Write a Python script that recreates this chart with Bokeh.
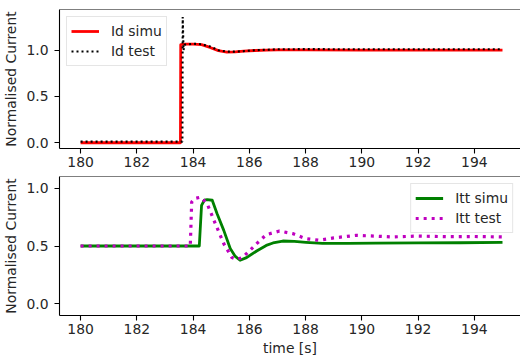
from bokeh.plotting import figure
from bokeh.layouts import column
from bokeh.models import Range1d, FixedTicker, PrintfTickFormatter, Span
from bokeh.embed import file_html
from bokeh.resources import INLINE

# ---------------- data ----------------
id_simu_t = [180.0, 183.55, 183.56, 183.7, 184.0, 184.3, 184.6, 184.9, 185.2, 185.5,
             185.8, 186.2, 186.6, 187.0, 188.0, 190.0, 192.0, 195.0]
id_simu_v = [0.0, 0.0, 1.06, 1.065, 1.065, 1.06, 1.03, 0.995, 0.98, 0.982,
             0.99, 0.997, 1.0, 1.003, 1.003, 1.002, 1.002, 1.002]

id_test_t = [180.0, 183.62, 183.63, 183.66, 183.7, 184.0, 184.3, 184.6, 184.9, 185.2,
             185.5, 185.8, 186.2, 186.6, 187.0, 188.0, 190.0, 192.0, 195.0]
id_test_v = [0.012, 0.012, 1.36, 1.0, 1.06, 1.07, 1.065, 1.04, 1.0, 0.985,
             0.985, 0.99, 1.0, 1.005, 1.01, 1.012, 1.01, 1.01, 1.01]

itt_simu_t = [180.0, 184.22, 184.3, 184.4, 184.5, 184.68, 184.85, 185.09, 185.32, 185.5,
              185.67, 185.9, 186.26, 186.6, 186.84, 187.19, 187.6, 188.01, 188.6, 189.5,
              190.5, 192.0, 193.5, 195.0]
itt_simu_v = [0.5, 0.5, 0.85, 0.895, 0.9, 0.895, 0.78, 0.635, 0.478, 0.41,
              0.377, 0.40, 0.457, 0.505, 0.526, 0.543, 0.54, 0.532, 0.523, 0.522,
              0.525, 0.527, 0.528, 0.532]

itt_test_t = [180.0, 183.9, 183.95, 184.05, 184.27, 184.5, 184.79, 185.09, 185.38, 185.55,
              185.75, 185.96, 186.26, 186.6, 187.07, 187.54, 188.0, 188.48, 189.0, 189.79,
              190.5, 191.07, 192.0, 193.0, 194.0, 195.0]
itt_test_v = [0.5, 0.5, 0.88, 0.91, 0.922, 0.865, 0.693, 0.52, 0.40, 0.385,
              0.40, 0.448, 0.52, 0.598, 0.629, 0.607, 0.564, 0.549, 0.57, 0.592,
              0.585, 0.578, 0.586, 0.58, 0.582, 0.578]

x_ticks = [180, 182, 184, 186, 188, 190, 192, 194]
y_ticks = [0.0, 0.5, 1.0]
y_label = "Normalised Current"
x_label = "time [s]"

FONT = "DejaVu Sans"
FS = "13.9px"
TXT = "#262626"


def style(p, xlabel=None):
    p.outline_line_color = None
    p.xgrid.visible = False
    p.ygrid.visible = False
    p.background_fill_color = "white"
    p.border_fill_color = "white"
    for ax in (p.xaxis[0], p.yaxis[0]):
        ax.axis_line_color = "black"
        ax.axis_line_width = 1.1
        ax.major_tick_line_color = "black"
        ax.major_tick_line_width = 1.1
        ax.major_tick_out = 5
        ax.major_tick_in = 0
        ax.minor_tick_out = 0
        ax.minor_tick_in = 0
        ax.major_label_text_font = FONT
        ax.major_label_text_font_size = FS
        ax.major_label_text_color = TXT
        ax.axis_label_text_font = FONT
        ax.axis_label_text_font_size = FS
        ax.axis_label_text_font_style = "normal"
        ax.axis_label_text_color = TXT
    p.xaxis.ticker = FixedTicker(ticks=x_ticks)
    p.yaxis.ticker = FixedTicker(ticks=y_ticks)
    p.yaxis.formatter = PrintfTickFormatter(format="%.1f")
    p.xaxis.major_label_standoff = 3
    p.yaxis.major_label_standoff = 6
    p.yaxis.axis_label = y_label
    p.yaxis.axis_label_standoff = 4
    if xlabel:
        p.xaxis.axis_label = xlabel
        p.xaxis.axis_label_standoff = 3
    top = Span(location=p.y_range.end, dimension="width", line_color="black", line_width=1.1)
    p.add_layout(top)


def style_legend(p, loc):
    lg = p.legend[0]
    lg.location = loc
    lg.margin = 7
    lg.padding = 4
    lg.spacing = 0
    lg.glyph_width = 28
    lg.label_standoff = 12
    lg.label_text_font = FONT
    lg.label_text_font_size = FS
    lg.label_text_color = TXT
    lg.border_line_color = "#cccccc"
    lg.border_line_width = 1
    lg.background_fill_color = "white"
    lg.background_fill_alpha = 0.8


common = dict(width=520, output_backend="svg", toolbar_location=None,
              min_border_left=53, min_border_right=0)

p1 = figure(height=175, x_range=Range1d(179.25, 195.64), y_range=Range1d(-0.062, 1.44),
            min_border_top=9, min_border_bottom=27, **common)
p1.line(id_simu_t, id_simu_v, line_color="#ff0000", line_width=2.8, line_join="round",
        legend_label="Id simu")
p1.line(id_test_t, id_test_v, line_color="black", line_width=2.1, line_dash="2 3",
        legend_label="Id test")
style(p1)
style_legend(p1, "top_left")

p2 = figure(height=183, x_range=Range1d(179.25, 195.64), y_range=Range1d(-0.1, 1.1),
            min_border_top=1, min_border_bottom=43, **common)
p2.line(itt_simu_t, itt_simu_v, line_color="#008000", line_width=2.8, line_join="round",
        legend_label="Itt simu")
p2.line(itt_test_t, itt_test_v, line_color="#bf00bf", line_width=3.2, line_dash="3 5",
        legend_label="Itt test")
style(p2, x_label)
style_legend(p2, "top_right")

layout = column(p1, p2, spacing=0)
open("out.html", "w").write(file_html(layout, INLINE))
